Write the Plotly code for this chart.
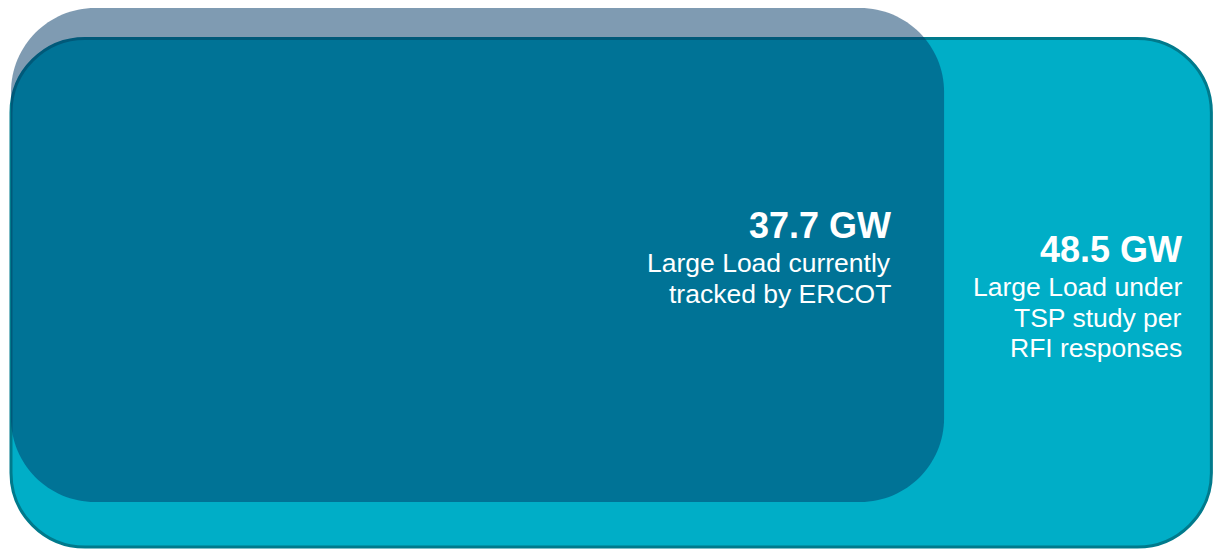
import plotly.graph_objects as go

# ---- data ----
load_gw = [37.7, 48.5]
headlines = ["37.7 GW", "48.5 GW"]
descriptions = [
    ["Large Load currently", "tracked by ERCOT"],
    ["Large Load under", "TSP study per", "RFI responses"],
]

# ---- layout / style constants ----
W, H = 1215, 550
PX_PER_GW = 24.75
X_ORIGIN_PX = 11

# index 0 -> tracked (small, overlay), index 1 -> TSP study (large, base)
box_top = [8, 38.5]
box_bottom = [502, 547]
box_radius = [84, 74]
box_fill = ["rgba(0,55,101,0.5)", "#00AEC7"]
box_line = [None, "#007A8C"]
text_shift_px = [-51, -27]
headline_center = [225.5, 249.5]
desc_first_center = [263.4, 287.4]
desc_step = [31, 30.5]


def rounded_path(x0, x1, y0, y1, r_px):
    rx = r_px / PX_PER_GW
    ry = r_px
    k = 0.5523
    p = []
    p.append(f"M {x0 + rx},{y0}")
    p.append(f"L {x1 - rx},{y0}")
    p.append(f"C {x1 - rx + k*rx},{y0} {x1},{y0 + ry - k*ry} {x1},{y0 + ry}")
    p.append(f"L {x1},{y1 - ry}")
    p.append(f"C {x1},{y1 - ry + k*ry} {x1 - rx + k*rx},{y1} {x1 - rx},{y1}")
    p.append(f"L {x0 + rx},{y1}")
    p.append(f"C {x0 + rx - k*rx},{y1} {x0},{y1 - ry + k*ry} {x0},{y1 - ry}")
    p.append(f"L {x0},{y0 + ry}")
    p.append(f"C {x0},{y0 + ry - k*ry} {x0 + rx - k*rx},{y0} {x0 + rx},{y0}")
    p.append("Z")
    return " ".join(p)


fig = go.Figure()
# invisible trace so the axes exist
fig.add_trace(go.Scatter(x=[0, max(load_gw)], y=[0, 0], mode="markers",
                         marker=dict(opacity=0), hoverinfo="skip", showlegend=False))

shapes = []
for i in [1, 0]:
    shapes.append(dict(
        type="path", xref="x", yref="y",
        path=rounded_path(0, load_gw[i], box_top[i], box_bottom[i], box_radius[i]),
        fillcolor=box_fill[i],
        line=dict(color=box_line[i] if box_line[i] else "rgba(0,0,0,0)",
                  width=3 if box_line[i] else 0),
        layer="above",
    ))

annotations = []
FONT = "Liberation Sans, Arial, sans-serif"
for i, v in enumerate(load_gw):
    annotations.append(dict(
        x=v, y=headline_center[i], xref="x", yref="y", xshift=text_shift_px[i],
        text=f"<b>{headlines[i]}</b>", showarrow=False, xanchor="right", yanchor="middle",
        font=dict(family=FONT, size=36, color="white"),
    ))
    for j, line in enumerate(descriptions[i]):
        annotations.append(dict(
            x=v, y=desc_first_center[i] + j * desc_step[i], xref="x", yref="y",
            xshift=text_shift_px[i],
            text=line, showarrow=False, xanchor="right", yanchor="middle",
            font=dict(family=FONT, size=26.5, color="white"),
        ))

fig.update_layout(
    width=W, height=H,
    margin=dict(l=0, r=0, t=0, b=0),
    paper_bgcolor="white", plot_bgcolor="white",
    shapes=shapes, annotations=annotations,
    xaxis=dict(range=[-X_ORIGIN_PX / PX_PER_GW, (W - X_ORIGIN_PX) / PX_PER_GW],
               visible=False, fixedrange=True),
    yaxis=dict(range=[H, 0], visible=False, fixedrange=True),
    showlegend=False,
)

fig.write_html("out.html", config={"displayModeBar": False},
               post_script="document.body.style.margin='0';document.body.style.overflow='hidden';")
